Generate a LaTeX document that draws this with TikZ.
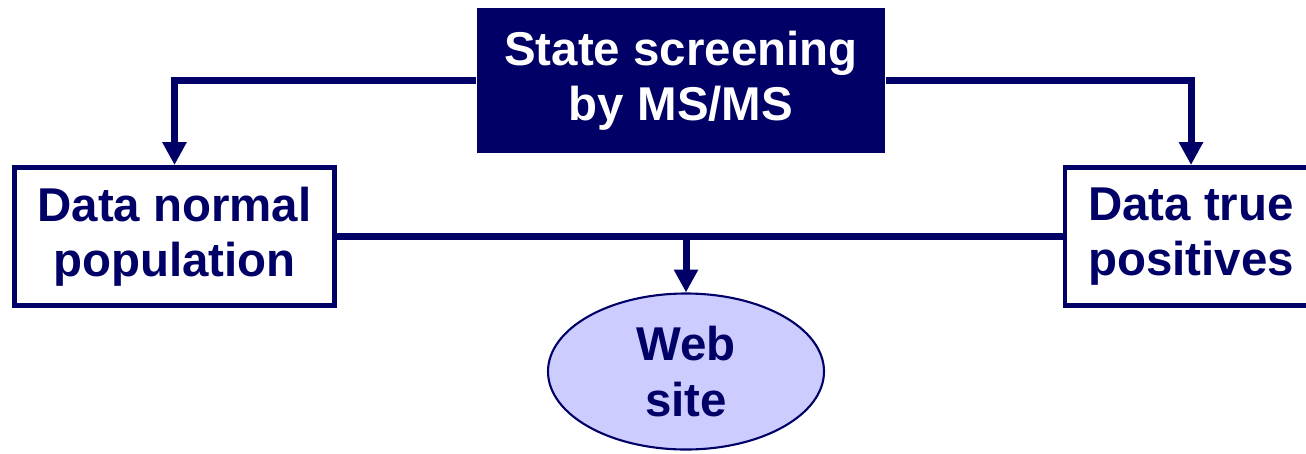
\documentclass[tikz,border=0pt]{standalone}
\usepackage{xcolor}
\usepackage{fontspec}
\setmainfont{Liberation Sans}
\usetikzlibrary{arrows.meta, shapes.geometric, backgrounds}

\definecolor{navy}{HTML}{000066}
\definecolor{lavender}{HTML}{CCCCFF}

\begin{document}
\begin{tikzpicture}[background rectangle/.style={fill=white}, show background rectangle,
    font=\fontsize{13.5pt}{15.7pt}\selectfont\bfseries]
            \useasboundingbox (0,0) rectangle (13.06,-4.53);
            \clip (0,0) rectangle (13.06,-4.53);

            \begin{scope}[every node/.style={rectangle,align=center,inner sep=0pt}]
                \node[fill=navy, text=white, minimum width=4.08cm, minimum height=1.45cm] (screen) at (6.81,-0.805) {State screening\\by MS/MS};
                \node[draw=navy, line width=1.4pt, text=navy, minimum width=3.2cm, minimum height=1.38cm] (normal) at (1.745,-2.365) {Data normal\\population};
                \node[draw=navy, line width=1.4pt, text=navy, minimum width=2.52cm, minimum height=1.38cm] (truepos) at (11.91,-2.365) {Data true\\positives};
                \node[shape=ellipse, draw=navy, line width=0.6pt, fill=lavender, text=navy, minimum width=2.76cm, minimum height=1.56cm] (web) at (6.86,-3.715) {Web\\site};
            \end{scope}

            \begin{scope}[>={Triangle[width=6.5pt,length=6.5pt]},
                          every path/.style={draw=navy, line width=2pt}]
                \draw[->] (screen.west) -| (normal.north);
                \draw[->] (screen.east) -| (truepos.north);
                \draw (normal.east) -- (truepos.west);
                \coordinate (join) at (web.north |- normal.east);
                \draw[->] (join) -- (web.north);
            \end{scope}

            \end{tikzpicture}
\end{document}
